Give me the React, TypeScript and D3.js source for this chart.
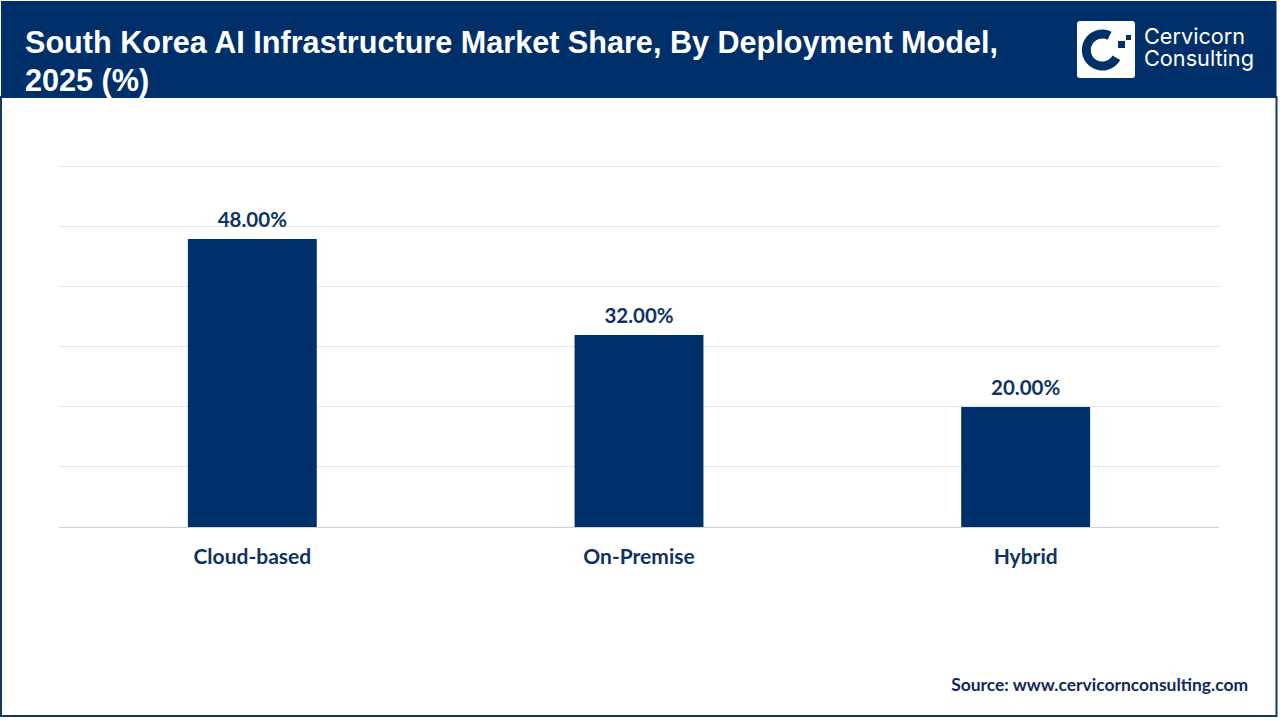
import React from "react";
import * as d3 from "d3";

const categories = ["Cloud-based", "On-Premise", "Hybrid"];
const shares = [48, 32, 20];
const gridTicks = [0, 10, 20, 30, 40, 50, 60];
const titleLines = ["South Korea AI Infrastructure Market Share, By Deployment Model,", "2025 (%)"];
const logoLines = ["Cervicorn", "Consulting"];
const sourceText = "Source: www.cervicornconsulting.com";

const NAVY = "#00306a";
const LABEL = "#0f3361";
const BODY = "Lato, Carlito, sans-serif";

export default function App() {
  const x = d3.scaleBand<string>().domain(categories).range([59, 1219]).paddingInner(2 / 3).paddingOuter(1 / 3);
  const y = d3.scaleLinear().domain([0, 60]).range([527, 167]);
  const logoArc = d3.arc()({ innerRadius: 11.5, outerRadius: 20.5, startAngle: Math.PI * 0.66, endAngle: Math.PI * 2.15 }) as string;

  return (
    <svg width={1280} height={720} viewBox="0 0 1280 720" style={{ position: "fixed", left: 0, top: 0, display: "block" }}>
      <rect x={0} y={0} width={1280} height={720} fill="#ffffff" />
      <rect x={1} y={97} width={1275.5} height={619} fill="none" stroke="#123a5c" strokeWidth={2} />
      <rect x={1} y={1} width={1275.5} height={97} fill={NAVY} />

      {titleLines.map((t, i) => (
        <text key={t} x={25} y={53 + i * 38} fill="#ffffff" fontFamily="'Liberation Sans', Arial, sans-serif" fontWeight={700} fontSize={30.6}>
          {t}
        </text>
      ))}

      <rect x={1077} y={21} width={58} height={57} rx={3} fill="#ffffff" />
      <path d={logoArc} transform="translate(1102.3,50)" fill={NAVY} />
      <rect x={1118} y={41} width={7} height={7} fill={NAVY} />
      <rect x={1126} y={35} width={5} height={5} fill={NAVY} />
      {logoLines.map((t, i) => (
        <text key={t} x={1144} y={44 + i * 22} fill="#ffffff" fontFamily="Inter, sans-serif" fontWeight={400} fontSize={21.7}>
          {t}
        </text>
      ))}

      {gridTicks.slice(1).map((t) => (
        <line key={t} x1={59} x2={1220} y1={y(t) - 0.5} y2={y(t) - 0.5} stroke="#e6e6e6" strokeWidth={1} />
      ))}
      <line x1={59} x2={1219} y1={y(0) + 0.5} y2={y(0) + 0.5} stroke="#d0d0d0" strokeWidth={1} />

      {categories.map((c, i) => (
        <g key={c}>
          <rect x={x(c)} y={y(shares[i])} width={x.bandwidth()} height={y(0) - y(shares[i])} fill={NAVY} />
          <text x={x(c)! + x.bandwidth() / 2} y={y(shares[i]) - 12} textAnchor="middle" fill={LABEL} fontFamily={BODY} fontWeight={700} fontSize={20.5}>
            {shares[i].toFixed(2)}%
          </text>
          <text x={x(c)! + x.bandwidth() / 2} y={564} textAnchor="middle" fill={LABEL} fontFamily={BODY} fontWeight={700} fontSize={21}>
            {c}
          </text>
        </g>
      ))}

      <text x={1248} y={691} textAnchor="end" fill="#10295a" fontFamily={BODY} fontWeight={700} fontSize={17.45}>
        {sourceText}
      </text>
    </svg>
  );
}
